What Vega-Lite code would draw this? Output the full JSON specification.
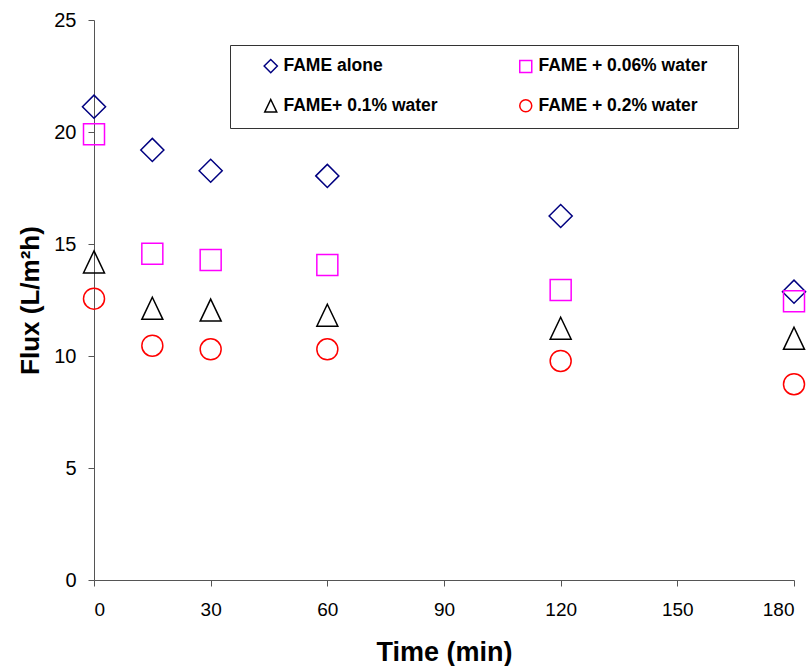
{
  "$schema": "https://vega.github.io/schema/vega-lite/v6.json",
  "width": 700,
  "height": 560,
  "autosize": {"type": "none"},
  "padding": {"left": 94, "top": 20, "right": 18, "bottom": 86},
  "background": "white",
  "config": {
    "font": "Liberation Sans",
    "view": {"stroke": null},
    "axis": {
      "grid": false,
      "domainColor": "#555555",
      "tickColor": "#555555",
      "tickSize": 6,
      "domainWidth": 1,
      "tickWidth": 1,
      "labelColor": "black",
      "titleColor": "black",
      "labelFont": "Liberation Sans",
      "titleFont": "Liberation Sans"
    }
  },
  "data": {
    "values": [
      {"series": "FAME alone", "time": 0, "flux": 21.13},
      {"series": "FAME alone", "time": 15, "flux": 19.2},
      {"series": "FAME alone", "time": 30, "flux": 18.27},
      {"series": "FAME alone", "time": 60, "flux": 18.04},
      {"series": "FAME alone", "time": 120, "flux": 16.25},
      {"series": "FAME alone", "time": 180, "flux": 12.87},
      {"series": "FAME + 0.06% water", "time": 0, "flux": 19.9},
      {"series": "FAME + 0.06% water", "time": 15, "flux": 14.57},
      {"series": "FAME + 0.06% water", "time": 30, "flux": 14.29},
      {"series": "FAME + 0.06% water", "time": 60, "flux": 14.06},
      {"series": "FAME + 0.06% water", "time": 120, "flux": 12.95},
      {"series": "FAME + 0.06% water", "time": 180, "flux": 12.44},
      {"series": "FAME+ 0.1% water", "time": 0, "flux": 14.2},
      {"series": "FAME+ 0.1% water", "time": 15, "flux": 12.13},
      {"series": "FAME+ 0.1% water", "time": 30, "flux": 12.05},
      {"series": "FAME+ 0.1% water", "time": 60, "flux": 11.82},
      {"series": "FAME+ 0.1% water", "time": 120, "flux": 11.24},
      {"series": "FAME+ 0.1% water", "time": 180, "flux": 10.79},
      {"series": "FAME + 0.2% water", "time": 0, "flux": 12.56},
      {"series": "FAME + 0.2% water", "time": 15, "flux": 10.46},
      {"series": "FAME + 0.2% water", "time": 30, "flux": 10.3},
      {"series": "FAME + 0.2% water", "time": 60, "flux": 10.3},
      {"series": "FAME + 0.2% water", "time": 120, "flux": 9.78},
      {"series": "FAME + 0.2% water", "time": 180, "flux": 8.74}
    ]
  },
  "mark": {"type": "point", "filled": false, "strokeWidth": 1.5, "size": 441, "opacity": 1},
  "encoding": {
    "x": {
      "field": "time",
      "type": "quantitative",
      "scale": {"domain": [0, 180], "nice": false, "zero": false},
      "axis": {
        "values": [0, 30, 60, 90, 120, 150, 180],
        "title": "Time (min)",
        "labelFontSize": 19,
        "labelPadding": 14,
        "titleFontSize": 27,
        "titleFontWeight": "bold",
        "titlePadding": 20
      }
    },
    "y": {
      "field": "flux",
      "type": "quantitative",
      "scale": {"domain": [0, 25], "nice": false},
      "axis": {
        "values": [0, 5, 10, 15, 20, 25],
        "title": "Flux (L/m²h)",
        "labelFontSize": 20,
        "labelPadding": 12,
        "titleFontSize": 26,
        "titleFontWeight": "bold",
        "titlePadding": 10
      }
    },
    "shape": {
      "field": "series",
      "type": "nominal",
      "scale": {
        "domain": ["FAME alone", "FAME+ 0.1% water", "FAME + 0.06% water", "FAME + 0.2% water"],
        "range": ["M-1.1,0L0,-1.1L1.1,0L0,1.1Z", "M0,-1.05L1,1.05L-1,1.05Z", "M-1,-1L1,-1L1,1L-1,1Z", "circle"]
      },
      "legend": null
    },
    "color": {
      "field": "series",
      "type": "nominal",
      "scale": {
        "domain": ["FAME alone", "FAME+ 0.1% water", "FAME + 0.06% water", "FAME + 0.2% water"],
        "range": ["#000080", "#000000", "#FF00FF", "#FF0000"]
      },
      "legend": {
        "title": " ",
        "titleOrient": "right",
        "titlePadding": 19,
        "orient": "none",
        "legendX": 136,
        "legendY": 25,
        "columns": 2,
        "columnPadding": 59,
        "rowPadding": 20,
        "padding": 12,
        "symbolOffset": 20,
        "strokeColor": "#333333",
        "fillColor": "white",
        "labelFontSize": 17.5,
        "labelFontWeight": "bold",
        "labelColor": "black",
        "labelLimit": 300,
        "labelOffset": 4,
        "symbolSize": 144,
        "symbolStrokeWidth": 1.5,
        "symbolType": "circle"
      }
    }
  }
}
